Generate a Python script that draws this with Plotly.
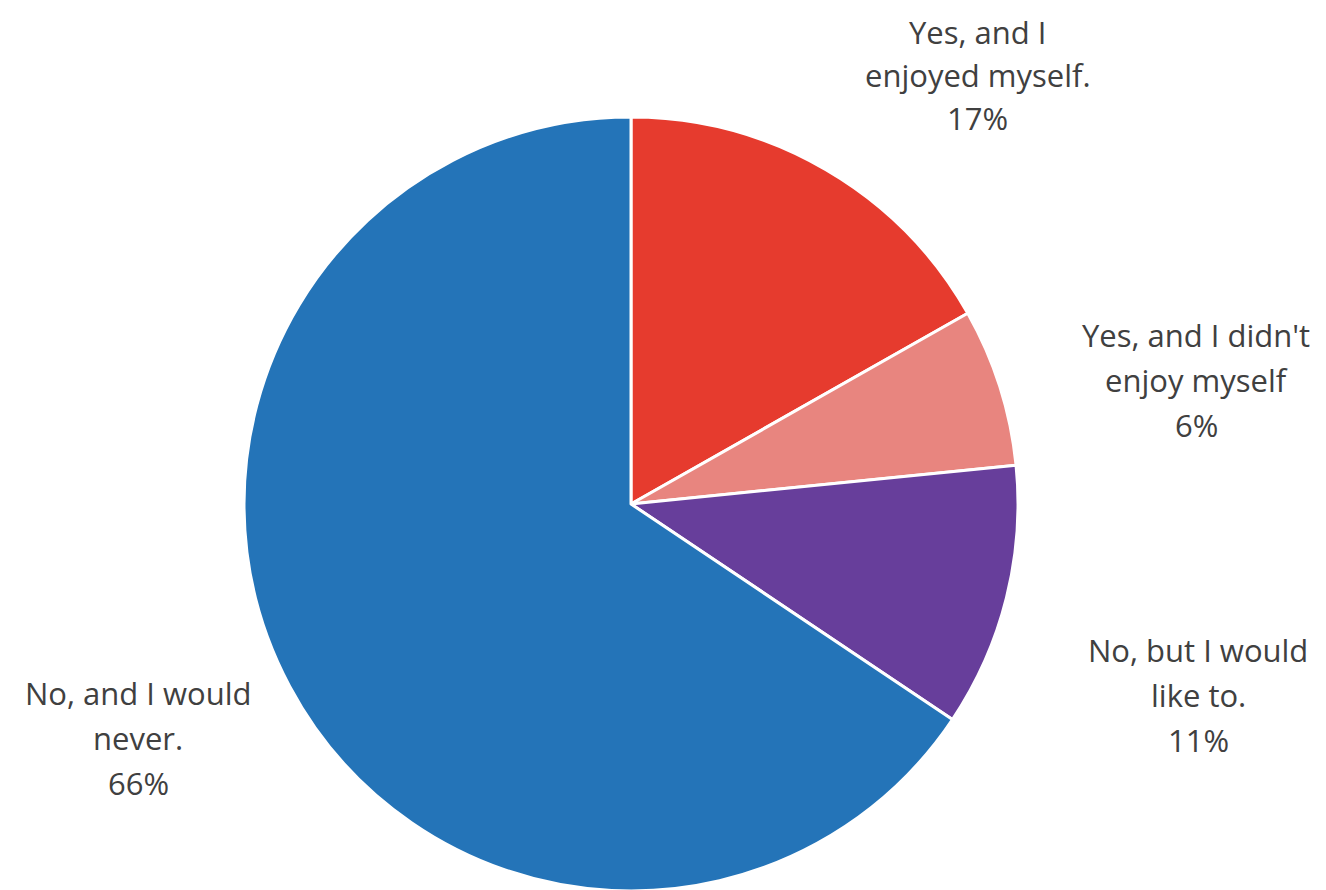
import plotly.graph_objects as go

labels = ["Yes, and I enjoyed myself.", "Yes, and I didn't enjoy myself",
          "No, but I would like to.", "No, and I would never."]
label_lines = [["Yes, and I", "enjoyed myself."], ["Yes, and I didn't", "enjoy myself"],
               ["No, but I would", "like to."], ["No, and I would", "never."]]
values = [16.8, 6.6, 11.0, 65.6]
pct_text = ["17%", "6%", "11%", "66%"]
colors = ["#E63B2E", "#E8857F", "#673E9B", "#2474B8"]

W, H = 1326, 890
cx, cy, r = 623, 496, 387

fig = go.Figure(go.Pie(
    labels=labels, values=values, sort=False, direction="clockwise", rotation=0,
    marker=dict(colors=colors, line=dict(color="white", width=3)),
    textinfo="none", hoverinfo="label+percent", showlegend=False,
    domain=dict(x=[(cx - r) / W, (cx + r) / W], y=[1 - (cy + r) / H, 1 - (cy - r) / H]),
))

# label block positions (pixels): center x, center y of first line
label_pos = [(970, 24), (1188, 327), (1190, 642), (130, 685)]
gaps = [43, 45, 45, 45]
for lines, pct, (px, py), gap in zip(label_lines, pct_text, label_pos, gaps):
    for i, t in enumerate(lines + [pct]):
        fig.add_annotation(
            x=px / W, y=1 - (py + i * gap) / H, xref="paper", yref="paper",
            text=t, showarrow=False, align="center",
            font=dict(family="Open Sans", size=31, color="#404040"),
            xanchor="center", yanchor="middle",
        )

fig.update_layout(width=W, height=H, margin=dict(l=0, r=0, t=0, b=0),
                  paper_bgcolor="white", plot_bgcolor="white")
fig.write_html("out.html")
